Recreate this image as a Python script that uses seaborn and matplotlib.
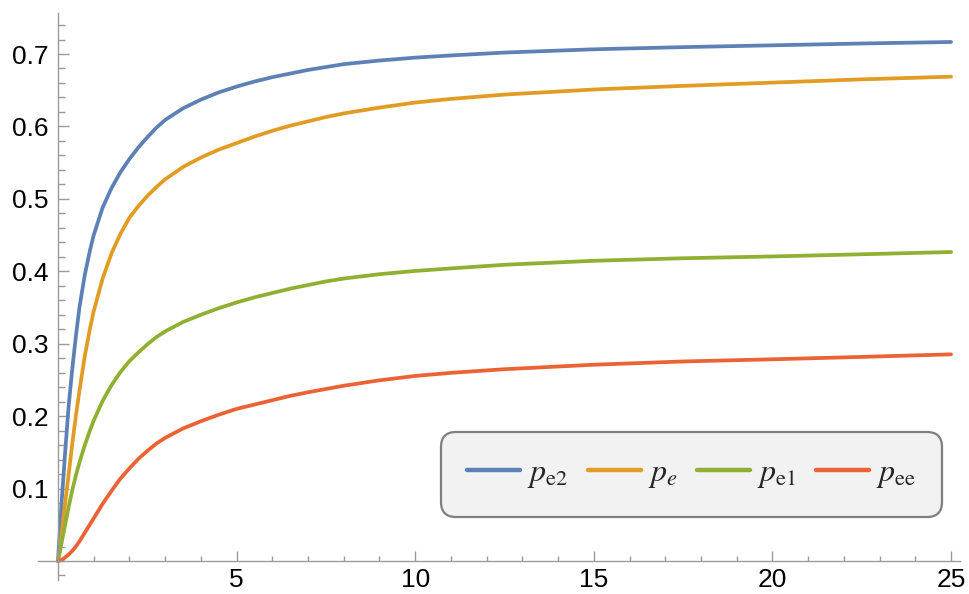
import matplotlib
matplotlib.use("Agg")
import matplotlib.pyplot as plt
from matplotlib.ticker import MultipleLocator
import seaborn as sns
import pandas as pd

# values
x_vals = [0, 0.05, 0.1, 0.15, 0.2, 0.3, 0.4, 0.5, 0.6, 0.75, 0.9, 1, 1.25,
          1.5, 1.75, 2, 2.25, 2.5, 2.75, 3, 3.5, 4, 4.5, 5, 5.5, 6, 6.5, 7,
          7.5, 8, 9, 10, 11, 12.5, 15, 17.5, 20, 22.5, 25]
p_e2 = [0, 0.04, 0.08, 0.115, 0.15, 0.215, 0.265, 0.31, 0.35, 0.395, 0.43,
        0.45, 0.488, 0.515, 0.537, 0.555, 0.571, 0.585, 0.598, 0.609, 0.625,
        0.637, 0.647, 0.655, 0.662, 0.668, 0.673, 0.678, 0.682, 0.686, 0.691,
        0.695, 0.698, 0.702, 0.7065, 0.7095, 0.712, 0.7145, 0.7166]
p_e = [0, 0.015, 0.035, 0.058, 0.08, 0.12, 0.162, 0.20, 0.235, 0.283, 0.322,
       0.345, 0.39, 0.425, 0.452, 0.474, 0.49, 0.504, 0.516, 0.527, 0.544,
       0.557, 0.568, 0.577, 0.586, 0.594, 0.601, 0.607, 0.613, 0.618, 0.626,
       0.633, 0.638, 0.644, 0.651, 0.656, 0.6605, 0.665, 0.6687]
p_e1 = [0, 0.012, 0.025, 0.038, 0.05, 0.075, 0.098, 0.118, 0.136, 0.16,
        0.181, 0.194, 0.221, 0.243, 0.261, 0.276, 0.288, 0.299, 0.309, 0.317,
        0.33, 0.34, 0.349, 0.357, 0.364, 0.37, 0.376, 0.381, 0.386, 0.39,
        0.396, 0.4005, 0.404, 0.409, 0.4145, 0.418, 0.4205, 0.4235, 0.4266]
p_ee = [0, 0.0005, 0.0015, 0.003, 0.005, 0.009, 0.014, 0.02, 0.027, 0.039,
        0.051, 0.059, 0.079, 0.097, 0.114, 0.128, 0.141, 0.152, 0.162, 0.17,
        0.183, 0.193, 0.202, 0.21, 0.216, 0.222, 0.228, 0.233, 0.2375, 0.242,
        0.2495, 0.2555, 0.2598, 0.2648, 0.271, 0.2755, 0.2785, 0.2818, 0.2853]

series_names = [r"$p_{\mathrm{e2}}$", r"$p_e$", r"$p_{\mathrm{e1}}$", r"$p_{\mathrm{ee}}$"]
colors = ["#5E81B5", "#E19C24", "#8FB032", "#EB6235"]

x_ticks = [5, 10, 15, 20, 25]
x_tick_labels = ["5", "10", "15", "20", "25"]
y_ticks = [0.1, 0.2, 0.3, 0.4, 0.5, 0.6, 0.7]
y_tick_labels = ["0.1", "0.2", "0.3", "0.4", "0.5", "0.6", "0.7"]

frames = []
for name, vals in zip(series_names, [p_e2, p_e, p_e1, p_ee]):
    frames.append(pd.DataFrame({"x": x_vals, "y": vals, "series": name}))
df = pd.concat(frames, ignore_index=True)

sns.set_theme(style="white")
plt.rcParams["font.family"] = ["Liberation Sans", "DejaVu Sans"]
plt.rcParams["mathtext.fontset"] = "stix"

fig = plt.figure(figsize=(9.69, 5.94), dpi=100)
ax = fig.add_axes([0.0392, 0.0236, 0.9515, 0.9545])

sns.lineplot(data=df, x="x", y="y", hue="series", hue_order=series_names,
             palette=colors, linewidth=2.7, ax=ax, sort=False)

ax.set_xlim(-0.56, 25.25)
ax.set_ylim(-0.0262, 0.7566)

axis_gray = "#9a9a9a"
for side in ["top", "right"]:
    ax.spines[side].set_visible(False)
for side in ["left", "bottom"]:
    ax.spines[side].set_position(("data", 0))
    ax.spines[side].set_color(axis_gray)
    ax.spines[side].set_linewidth(1.0)

ax.set_xticks(x_ticks)
ax.set_xticklabels(x_tick_labels)
ax.set_yticks(y_ticks)
ax.set_yticklabels(y_tick_labels)
ax.xaxis.set_minor_locator(MultipleLocator(1))
ax.yaxis.set_minor_locator(MultipleLocator(0.02))

ax.tick_params(which="both", bottom=True, left=True, top=False, right=False)
ax.tick_params(axis="x", which="major", direction="in", length=7, width=1,
               color=axis_gray, labelsize=19, labelcolor="black", pad=5)
ax.tick_params(axis="x", which="minor", direction="in", length=3.6, width=1,
               color=axis_gray)
ax.tick_params(axis="y", which="major", direction="in", length=8, width=1,
               color=axis_gray, labelsize=19, labelcolor="black", pad=7)
ax.tick_params(axis="y", which="minor", direction="in", length=4.8, width=1,
               color=axis_gray)
ax.set_xlabel("")
ax.set_ylabel("")

handles, labels = ax.get_legend_handles_labels()
leg = ax.legend(handles, labels, loc="center", ncol=4,
                bbox_to_anchor=(0.7136, 0.2012), bbox_transform=fig.transFigure,
                fontsize=23, handlelength=1.65, handletextpad=0.22,
                columnspacing=0.62, borderpad=0.8, frameon=True, fancybox=True,
                framealpha=1)
frame = leg.get_frame()
frame.set_facecolor("#f2f2f2")
frame.set_edgecolor("#7f7f7f")
frame.set_linewidth(1.6)
frame.set_boxstyle("round,pad=0.02,rounding_size=0.45")
for line in leg.get_lines():
    line.set_linewidth(3.2)

fig.savefig("out.png", dpi=100)
